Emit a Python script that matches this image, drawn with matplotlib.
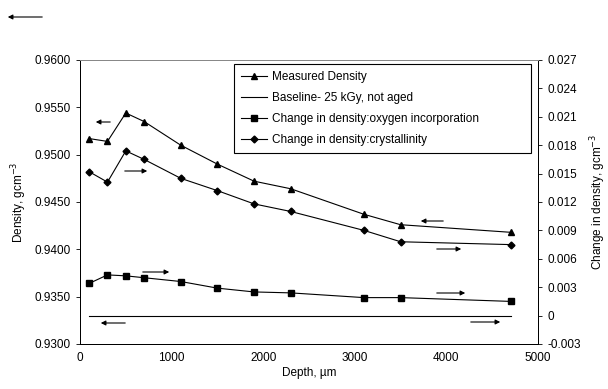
import matplotlib.pyplot as plt
from matplotlib import rcParams
from matplotlib.patches import FancyArrowPatch

rcParams['font.family'] = ['Liberation Sans', 'DejaVu Sans']
rcParams['font.size'] = 8

# data
depth = [100, 300, 500, 700, 1100, 1500, 1900, 2300, 3100, 3500, 4700]
measured = [0.9517, 0.9514, 0.9544, 0.9535, 0.9510, 0.9490, 0.9472, 0.9464, 0.9437, 0.9426, 0.9418]
crystallinity = [0.0152, 0.0141, 0.0174, 0.0165, 0.0145, 0.0132, 0.0118, 0.0110, 0.0090, 0.0078, 0.0075]
oxygen = [0.0034, 0.0043, 0.0042, 0.0040, 0.0036, 0.0029, 0.0025, 0.0024, 0.0019, 0.0019, 0.0015]
baseline_x = [100, 4700]
baseline_y = [0.0, 0.0]

fig = plt.figure(figsize=(6.08, 3.89), dpi=100)
ax = fig.add_axes([80/608, 1-344/389, 458/608, 284/389])
ax2 = ax.twinx()

ax.plot(depth, measured, color='black', lw=0.8, marker='^', ms=4.5,
        label='Measured Density')
ax2.plot(baseline_x, baseline_y, color='black', lw=0.8,
         label='Baseline- 25 kGy, not aged')
ax2.plot(depth, oxygen, color='black', lw=0.8, marker='s', ms=4.5,
         label='Change in density:oxygen incorporation')
ax2.plot(depth, crystallinity, color='black', lw=0.8, marker='D', ms=3.5,
         label='Change in density:crystallinity')

ax.set_xlim(0, 5000)
ax.set_ylim(0.93, 0.96)
ax2.set_ylim(-0.003, 0.027)
ax.set_xticks(range(0, 5001, 1000))
ax.set_yticks([0.93, 0.935, 0.94, 0.945, 0.95, 0.955, 0.96])
ax.set_yticklabels(['%.4f' % v for v in ax.get_yticks()])
ticks2 = [-0.003, 0, 0.003, 0.006, 0.009, 0.012, 0.015, 0.018, 0.021, 0.024, 0.027]
ax2.set_yticks(ticks2)
ax2.set_yticklabels(['0' if v == 0 else '%.3f' % v for v in ticks2])

ax.tick_params(direction='out', length=3, width=0.6, labelsize=8.5)
ax.tick_params(axis='x', length=0, pad=6)
ax2.tick_params(direction='out', length=3, width=0.6, labelsize=8.5)
for a in (ax, ax2):
    for s in a.spines.values():
        s.set_linewidth(0.7)
ax.spines['top'].set_color('#888888')
ax2.spines['top'].set_color('#888888')

ax.set_xlabel('Depth, µm', fontsize=8.5, labelpad=2)
ax.set_ylabel('Density, gcm$^{-3}$', fontsize=8.5, labelpad=4)
ax2.set_ylabel('Change in density, gcm$^{-3}$', fontsize=8.5, labelpad=6)

# legend
h1, l1 = ax.get_legend_handles_labels()
h2, l2 = ax2.get_legend_handles_labels()
leg = ax2.legend(h1 + h2, l1 + l2, loc='upper left',
                 bbox_to_anchor=((234-80)/458, 1-91/284, (531-234)/458, 87/284),
                 mode='expand', borderaxespad=0, fancybox=False,
                 edgecolor='black', framealpha=1,
                 fontsize=8.5, handlelength=2.2, handletextpad=0.4,
                 borderpad=0.6, labelspacing=0.75)
leg.get_frame().set_linewidth(0.8)

# arrows showing which axis each curve belongs to (pixel coords)
arrows = [
    (113, 122, 93, 122), (122, 171, 150, 171), (140, 272, 172, 272),
    (128, 323, 98, 323), (446, 221, 418, 221), (434, 249, 464, 249),
    (434, 293, 468, 293), (468, 322, 503, 322), (45, 17, 5, 17),
]
for x0, y0, x1, y1 in arrows:
    fig.patches.append(FancyArrowPatch(
        (x0/608, 1-y0/389), (x1/608, 1-y1/389), transform=fig.transFigure,
        arrowstyle='-|>', mutation_scale=7, lw=0.8, color='black'))

fig.savefig('out.png', dpi=100)
